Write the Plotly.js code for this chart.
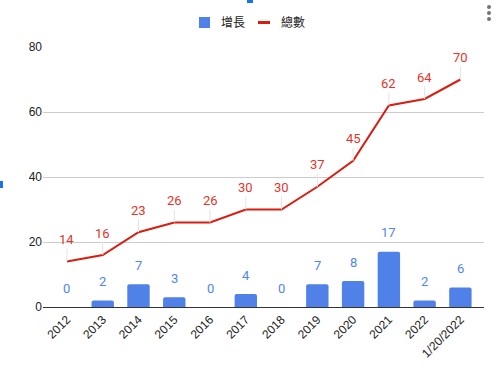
<!DOCTYPE html>
<html>
<head>
<meta charset="utf-8">
<script src="https://cdn.plot.ly/plotly-3.0.1.min.js"></script>
<style>html,body{margin:0;padding:0;background:#fff}#chart{width:500px;height:370px}</style>
</head>
<body>
<div id="chart"></div>
<script>
const categories = ["2012","2013","2014","2015","2016","2017","2018","2019","2020","2021","2022","1/20/2022"];
const growth = [0,2,7,3,0,4,0,7,8,17,2,6];
const total = [14,16,23,26,26,30,30,37,45,62,64,70];
const seriesNames = ["增長","總數"];
const yTicks = [0,20,40,60,80];

const barColor = "#4f81e8";
const barLabelColor = "#4f86ee";
const lineColor = "#d91d10";
const lineLabelColor = "#df352c";

const traces = [
  {
    type: "bar", name: seriesNames[0], x: categories, y: growth,
    marker: {color: barColor, cornerradius: 2}, hoverinfo: "none", showlegend: false
  },
  {
    type: "scatter", mode: "lines", name: seriesNames[1], x: categories, y: total,
    line: {color: lineColor, width: 2}, hoverinfo: "none", showlegend: false
  }
];

const annotations = [];
categories.forEach((c, i) => {
  annotations.push({
    x: i, y: growth[i], xref: "x", yref: "y", text: String(growth[i]),
    showarrow: false, yshift: 19, yanchor: "middle",
    font: {family: "Roboto, Arial, sans-serif", size: 13, color: barLabelColor}
  });
  annotations.push({
    x: i, y: total[i], xref: "x", yref: "y", text: String(total[i]),
    showarrow: true, arrowhead: 0, arrowwidth: 1, arrowcolor: "#e3e3e3",
    ax: 0, ay: -22, standoff: 0,
    font: {family: "Roboto, Arial, sans-serif", size: 13, color: lineLabelColor}
  });
});

const L = 43, R = 484, T = 47, B = 307;
const px = v => (v - L) / (R - L);
const py = v => (B - v) / (B - T);

// custom legend (symbols + names)
const legendFont = {family: "'Noto Sans CJK TC', 'Noto Sans CJK SC', sans-serif", size: 12, color: "#222"};
annotations.push({xref: "paper", yref: "paper", x: px(219), y: py(22), xanchor: "left", yanchor: "middle",
  text: seriesNames[0], showarrow: false, font: legendFont});
annotations.push({xref: "paper", yref: "paper", x: px(279), y: py(22), xanchor: "left", yanchor: "middle",
  text: seriesNames[1], showarrow: false, font: legendFont});

const shapes = [
  {type: "rect", xref: "paper", yref: "paper", x0: px(199), x1: px(210), y0: py(28), y1: py(17), fillcolor: barColor, line: {width: 0}},
  {type: "line", xref: "paper", yref: "paper", x0: px(258), x1: px(270), y0: py(22.5), y1: py(22.5), line: {color: lineColor, width: 3}},
  {type: "rect", xref: "paper", yref: "paper", x0: px(0), x1: px(3), y0: py(188), y1: py(181), fillcolor: "#1a73e8", line: {width: 0}},
  {type: "rect", xref: "paper", yref: "paper", x0: px(247), x1: px(253), y0: py(3), y1: py(0), fillcolor: "#1a73e8", line: {width: 0}}
];
[7, 13, 19].forEach(yy => shapes.push({
  type: "circle", xref: "paper", yref: "paper",
  x0: px(487), x1: px(491), y0: py(yy + 2), y1: py(yy - 2),
  fillcolor: "#757575", line: {width: 0}
}));

const layout = {
  width: 500, height: 370,
  margin: {l: L, r: 500 - R, t: T, b: 370 - B},
  paper_bgcolor: "#fff", plot_bgcolor: "#fff",
  font: {family: "Arial, 'Liberation Sans', sans-serif", size: 12, color: "#222"},
  showlegend: false,
  bargap: 0.374,
  xaxis: {
    type: "category", range: [-0.67, 11.66], tickangle: -45,
    showgrid: false, showline: true, linecolor: "#333", linewidth: 1,
    ticks: "", fixedrange: true,
    tickfont: {family: "Arial, 'Liberation Sans', sans-serif", size: 12, color: "#222"}
  },
  yaxis: {
    range: [0, 80], tickvals: yTicks, ticktext: yTicks.map(String),
    showgrid: true, gridcolor: "#cccccc", zeroline: false, showline: false,
    ticks: "", ticklen: 0, fixedrange: true,
    tickfont: {family: "Arial, 'Liberation Sans', sans-serif", size: 12, color: "#222"}
  },
  annotations: annotations,
  shapes: shapes
};

Plotly.newPlot("chart", traces, layout, {displayModeBar: false, staticPlot: true});
</script>
</body>
</html>
